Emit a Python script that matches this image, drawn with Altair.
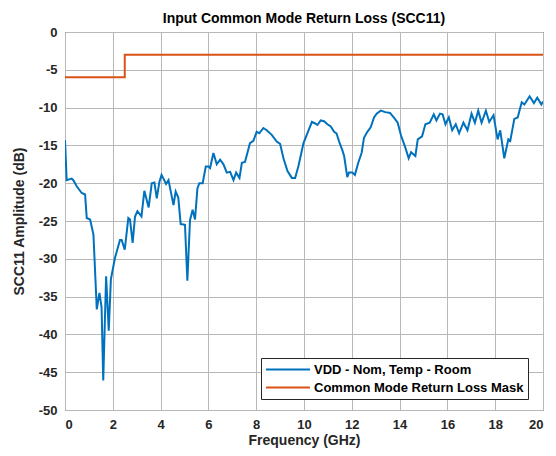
import altair as alt
import pandas as pd

# Measured curve (frequency in GHz, SCC11 in dB)
freq = [0, 0.07, 0.28, 0.35, 0.49, 0.7, 0.84, 0.91, 1.05, 1.19, 1.33, 1.44, 1.53, 1.6, 1.72, 1.83, 1.92,
        2.09, 2.3, 2.37, 2.5, 2.65, 2.72, 2.83, 2.93, 3.03, 3.2, 3.32, 3.5, 3.63, 3.74, 3.84, 3.95,
        4.04, 4.23, 4.33, 4.54, 4.63, 4.74, 4.84, 5.02, 5.12, 5.23, 5.34, 5.44, 5.54, 5.62, 5.76, 5.89,
        6.0, 6.07, 6.21, 6.35, 6.49, 6.63, 6.77, 6.91, 7.05, 7.16, 7.3, 7.4, 7.53, 7.74, 7.88,
        8.02, 8.13, 8.3, 8.44, 8.65, 8.86, 9.0, 9.14, 9.31, 9.49, 9.63, 9.77, 9.98,
        10.19, 10.33, 10.47, 10.56, 10.7, 10.84, 10.98, 11.12, 11.26, 11.36, 11.47, 11.6, 11.68, 11.81, 11.88,
        12.02, 12.13, 12.27, 12.41, 12.51, 12.65, 12.79, 12.93, 13.04, 13.21, 13.4, 13.6, 13.78, 13.92,
        14.06, 14.24, 14.38, 14.48, 14.66, 14.76, 14.94, 15.08, 15.26, 15.43, 15.54, 15.69, 15.8, 15.92,
        16.06, 16.2, 16.35, 16.49, 16.67, 16.84, 17.01, 17.15, 17.29, 17.43, 17.61, 17.75, 17.93,
        18.1, 18.21, 18.38, 18.55, 18.63, 18.8, 18.94, 19.11, 19.22, 19.44, 19.62, 19.76, 19.93, 20.0]
amp = [-14.3, -19.6, -19.4, -19.6, -20.4, -21.3, -21.5, -24.6, -24.8, -26.8, -36.7, -34.5, -36.4, -46.1, -32.3, -39.5, -32.7,
       -29.9, -27.5, -27.5, -28.8, -24.6, -24.8, -27.9, -24.4, -23.7, -24.4, -21.0, -23.2, -20.0, -19.9, -22.0, -19.8,
       -18.9, -20.1, -19.6, -22.9, -21.1, -21.9, -25.4, -25.5, -32.9, -24.9, -23.5, -24.8, -20.7, -20.0, -20.0, -17.8,
       -17.8, -18.0, -16.0, -17.5, -16.9, -17.5, -18.6, -18.5, -19.6, -18.6, -19.3, -17.3, -17.2, -14.7, -14.4,
       -13.2, -13.4, -12.7, -13.0, -13.6, -14.5, -14.8, -16.7, -18.4, -19.3, -19.3, -17.7, -14.7,
       -13.0, -11.9, -12.1, -12.3, -11.7, -11.8, -12.2, -12.5, -13.2, -13.4, -14.5, -15.6, -16.4, -19.2, -18.6,
       -18.6, -18.9, -17.3, -16.0, -14.0, -13.2, -12.6, -11.3, -10.8, -10.4, -10.6, -10.7, -11.4, -12.0,
       -13.7, -15.3, -16.7, -15.9, -16.4, -14.2, -13.8, -12.2, -12.0, -10.9, -11.7, -10.8, -10.9, -12.2,
       -11.3, -13.0, -12.2, -13.4, -12.0, -13.0, -10.8, -12.0, -10.4, -12.0, -10.4, -11.9, -11.0,
       -14.2, -13.0, -16.7, -14.2, -14.4, -11.5, -11.3, -9.3, -9.6, -8.5, -9.4, -8.7, -9.6, -9.2]
assert len(freq) == len(amp)

# Mask
mask_freq = [0, 2.5, 2.5, 20]
mask_amp = [-6, -6, -3, -3]

series_names = ["VDD - Nom, Temp - Room", "Common Mode Return Loss Mask"]
series_colors = ["#0072BD", "#D95319"]

x_ticks = list(range(0, 21, 2))
y_ticks = list(range(-50, 1, 5))

rows = []
for i, (f, a) in enumerate(zip(freq, amp)):
    rows.append({"f": f, "a": a, "s": series_names[0], "i": i})
for i, (f, a) in enumerate(zip(mask_freq, mask_amp)):
    rows.append({"f": f, "a": a, "s": series_names[1], "i": i})
df = pd.DataFrame(rows)

FONT = "Liberation Sans"

chart = alt.Chart(df).mark_line(strokeWidth=2, clip=True).encode(
    x=alt.X("f:Q", scale=alt.Scale(domain=[0, 20], nice=False),
            axis=alt.Axis(values=x_ticks, title="Frequency (GHz)", labelExpr="'' + datum.value")),
    y=alt.Y("a:Q", scale=alt.Scale(domain=[-50, 0], nice=False),
            axis=alt.Axis(values=y_ticks, title="SCC11 Amplitude (dB)", labelExpr="'' + datum.value")),
    color=alt.Color("s:N", scale=alt.Scale(domain=series_names, range=series_colors),
                    sort=series_names,
                    legend=alt.Legend(title=None, orient="none", legendX=196, legendY=326,
                                      fillColor="white", strokeColor="#262626", padding=4,
                                      symbolType="stroke", symbolSize=1936, symbolStrokeWidth=2,
                                      clipHeight=15, labelLimit=400,
                                      labelFont=FONT, labelFontSize=13, labelFontWeight="bold",
                                      labelColor="#000000", rowPadding=3, labelOffset=3,
                                      cornerRadius=0)),
    order="i:Q",
).properties(
    width=478, height=378,
    title=alt.TitleParams("Input Common Mode Return Loss (SCC11)", font=FONT, fontSize=14,
                          fontWeight="bold", color="#000000", offset=0),
    autosize=alt.AutoSizeParams(type="none"),
    padding={"left": 57, "top": 24, "right": 5, "bottom": 38},
).configure_axis(
    labelFont=FONT, labelFontSize=13, labelFontWeight="bold", labelColor="#262626",
    titleFont=FONT, titleFontSize=14, titleFontWeight="bold", titleColor="#262626",
    grid=True, gridColor="#b8b8b8", gridWidth=1, ticks=False, domain=False,
    labelPadding=8,
).configure_axisY(titlePadding=12).configure_axisX(titlePadding=2).configure_view(
    stroke="#262626", strokeWidth=1
)

chart.save("out.html", embed_options={"renderer": "svg", "actions": False})
